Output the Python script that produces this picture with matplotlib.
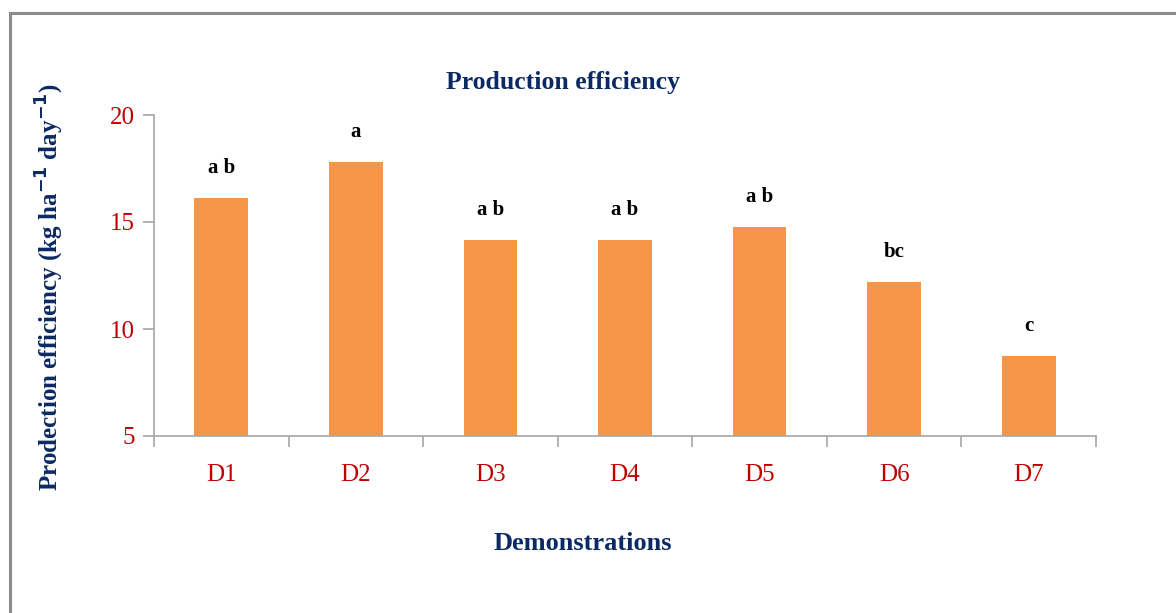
import matplotlib
matplotlib.use("Agg")
import matplotlib.pyplot as plt
from matplotlib.patches import Rectangle
import numpy as np

categories = ["D1", "D2", "D3", "D4", "D5", "D6", "D7"]
values = [16.1, 17.8, 14.15, 14.15, 14.75, 12.2, 8.75]
letters = ["a b", "a", "a b", "a b", "a b", "bc", "c"]
yticks = [5, 10, 15, 20]

navy = "#0B2A63"
red = "#C00000"
spine = "#A6A6A6"

plt.rcParams['font.family'] = ['Liberation Serif', 'DejaVu Serif']

fig = plt.figure(figsize=(11.76, 6.13), dpi=100)
ax = fig.add_axes([154/1176, 1-436/613, (1096-154)/1176, (436-115)/613])

x = np.arange(len(categories))
ax.bar(x, values, width=0.40, color="#F79646", zorder=2)
ax.set_xlim(-0.5, len(categories)-0.5)
ax.set_ylim(5, 20)
ax.set_yticks(yticks)
ax.set_yticklabels([str(t) for t in yticks], color=red, fontsize=18)
ax.set_xticks(x)
ax.set_xticklabels(categories, color=red, fontsize=18)
ax.set_xticks(np.arange(-0.5, len(categories), 1.0), minor=True)
ax.tick_params(axis='x', which='major', length=0, pad=20)
ax.tick_params(axis='x', which='minor', length=8, color=spine, width=1.2, direction='out')
ax.tick_params(axis='y', length=8, color=spine, width=1.2, pad=6)

for s in ['top', 'right']:
    ax.spines[s].set_visible(False)
for s in ['left', 'bottom']:
    ax.spines[s].set_color(spine)
    ax.spines[s].set_linewidth(1.2)

for xi, v, lab in zip(x, values, letters):
    ax.annotate(lab, (xi, v), xytext=(0, 20), textcoords='offset pixels',
                ha='center', va='bottom', fontsize=15, fontweight='bold', color='black')

fig.text(563/1176, 1-82/613, "Production efficiency", ha='center', va='center',
         fontsize=18.5, fontweight='bold', color=navy)
fig.text(583/1176, 1-543/613, "Demonstrations", ha='center', va='center',
         fontsize=19, fontweight='bold', color=navy)
fig.text(50/1176, 1-287/613, "Prodection efficiency (kg ha$^{\\mathbf{-1}}$ day$^{\\mathbf{-1}}$)",
         ha='center', va='center', rotation=90, fontsize=18, fontweight='bold', color=navy)

fig.patches.append(Rectangle((9.5/1176, -0.1), 1.2, 1.1 - 13/613 + 0.0, transform=fig.transFigure,
                             fill=False, edgecolor="#8C8C8C", linewidth=2.2))

fig.savefig("out.png", dpi=100)
